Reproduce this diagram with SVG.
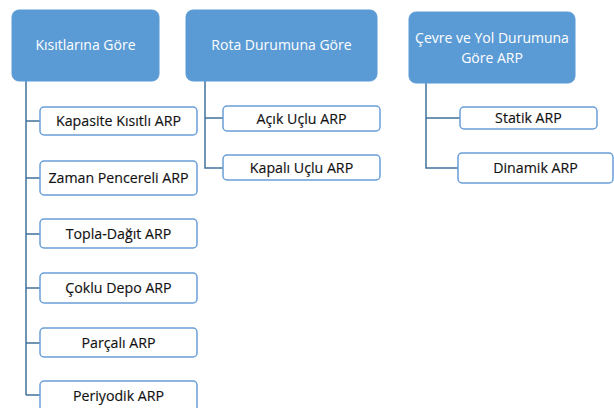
<svg xmlns="http://www.w3.org/2000/svg" width="614" height="408" viewBox="0 0 614 408">
<style>
.p{fill:#5B9BD5;stroke:#5B9BD5;stroke-width:1}
.c{fill:#fff;stroke:#6A9FD8;stroke-width:1.5}
.pt{fill:#fff;font-family:"Open Sans","Liberation Sans",sans-serif;font-size:14px;text-anchor:middle}
.ct{fill:#111;font-family:"Open Sans","Liberation Sans",sans-serif;font-size:14.2px;text-anchor:middle;stroke:#111;stroke-width:0.15}
.l{fill:none;stroke:#41719C;stroke-width:1.5}
</style>
<rect width="614" height="408" fill="#fff"/>
<g id="connectors">
<path class="l" d="M26 81V395M26 121H40M26 178H40M26 234H40M26 288H40M26 343H40M26 395H40"/>
<path class="l" d="M205 81V168H223M205 118H223"/>
<path class="l" d="M426 83V168H458M426 118H460"/>
</g>
<g id="n1"><rect class="p" x="12" y="10" width="147" height="71" rx="7"/><text class="pt" x="85.5" y="50">Kısıtlarına Göre</text></g>
<g id="n2"><rect class="p" x="186" y="10" width="191" height="71" rx="7"/><text class="pt" x="281.5" y="50">Rota Durumuna Göre</text></g>
<g id="n3"><rect class="p" x="409" y="12" width="166" height="71" rx="7"/><text class="pt" x="492" y="43">Çevre ve Yol Durumuna</text><text class="pt" x="492" y="62.5">Göre ARP</text></g>
<g id="c1"><rect class="c" x="40" y="107" width="157" height="28" rx="4"/><text class="ct" x="118.5" y="126">Kapasite Kısıtlı ARP</text></g>
<g id="c2"><rect class="c" x="40" y="161" width="157" height="34" rx="4"/><text class="ct" x="118.5" y="183">Zaman Pencereli ARP</text></g>
<g id="c3"><rect class="c" x="40" y="219" width="157" height="29" rx="4"/><text class="ct" x="118.5" y="239">Topla-Dağıt ARP</text></g>
<g id="c4"><rect class="c" x="40" y="273" width="157" height="30" rx="4"/><text class="ct" x="118.5" y="293">Çoklu Depo ARP</text></g>
<g id="c5"><rect class="c" x="40" y="328" width="157" height="29" rx="4"/><text class="ct" x="118.5" y="348">Parçalı ARP</text></g>
<g id="c6"><rect class="c" x="40" y="381" width="157" height="32" rx="4"/><text class="ct" x="118.5" y="401">Periyodik ARP</text></g>
<g id="c7"><rect class="c" x="223" y="106" width="157" height="25" rx="4"/><text class="ct" x="301.5" y="124">Açık Uçlu ARP</text></g>
<g id="c8"><rect class="c" x="223" y="155" width="157" height="25" rx="4"/><text class="ct" x="301.5" y="173">Kapalı Uçlu ARP</text></g>
<g id="c9"><rect class="c" x="460" y="107" width="137" height="22" rx="4"/><text class="ct" x="528.5" y="123">Statik ARP</text></g>
<g id="c10"><rect class="c" x="458" y="153" width="155" height="30" rx="4"/><text class="ct" x="535.5" y="173">Dinamik ARP</text></g>
</svg>
